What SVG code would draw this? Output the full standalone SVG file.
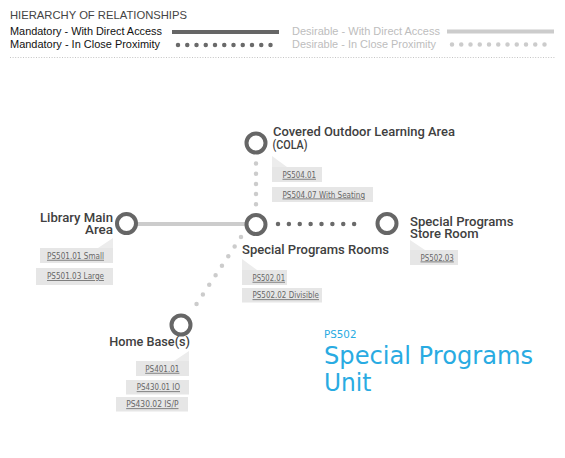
<svg xmlns="http://www.w3.org/2000/svg" width="565" height="458" viewBox="0 0 565 458">
<style>
.leg{font-family:"Liberation Sans",Arial,sans-serif;}
.lbl{font-family:Roboto,Inter,"DejaVu Sans",sans-serif;font-weight:500;font-size:12px;fill:#404040;}
.tag{font-family:"DejaVu Sans",sans-serif;font-size:8px;fill:#666;text-decoration:underline;}
.box{fill:#e6e6e6;}
.tab{fill:#ececec;}
.node{fill:#fff;stroke:#666;stroke-width:4;}
.solidL{stroke:#cccccc;stroke-width:4;fill:none;}
.solidD{stroke:#666;stroke-width:4;fill:none;}
.dotL{stroke:#cccccc;stroke-width:4.5;stroke-linecap:round;fill:none;}
.dotD{stroke:#6a6a6a;stroke-width:4.5;stroke-linecap:round;fill:none;}
.blue{font-family:"DejaVu Sans",sans-serif;fill:#29abe2;}
</style>
<rect width="565" height="458" fill="#ffffff"/>
<g id="legend">
<text class="leg" x="10" y="19" font-size="11.4" fill="#444" textLength="177" lengthAdjust="spacingAndGlyphs">HIERARCHY OF RELATIONSHIPS</text>
<text class="leg" x="10" y="35" font-size="11" fill="#111" textLength="152" lengthAdjust="spacingAndGlyphs">Mandatory - With Direct Access</text>
<text class="leg" x="10" y="48" font-size="11" fill="#111" textLength="150" lengthAdjust="spacingAndGlyphs">Mandatory - In Close Proximity</text>
<text class="leg" x="292" y="35" font-size="11" fill="#bdbdbd" textLength="148" lengthAdjust="spacingAndGlyphs">Desirable - With Direct Access</text>
<text class="leg" x="292" y="48" font-size="11" fill="#bdbdbd" textLength="144" lengthAdjust="spacingAndGlyphs">Desirable - In Close Proximity</text>
<line class="solidD" x1="172" y1="32" x2="279" y2="32"/>
<line class="dotD" x1="178" y1="45" x2="279.75" y2="45" stroke-width="3.8" stroke-dasharray="0 9.25"/>
<line class="solidL" x1="447" y1="31.5" x2="554" y2="31.5"/>
<line class="dotL" x1="452" y1="44.5" x2="553.75" y2="44.5" stroke-width="3.8" stroke-dasharray="0 9.25"/>
<line x1="10" y1="57.5" x2="556" y2="57.5" stroke="#b5b5b5" stroke-width="0.8" stroke-dasharray="1 1.6"/>
</g>
<g id="connectors">
<line class="solidL" x1="136" y1="224" x2="247" y2="224"/>
<line class="dotL" x1="256" y1="163.5" x2="256" y2="204.3" stroke-dasharray="0 10.2"/>
<line class="dotD" x1="278" y1="224" x2="365" y2="224" stroke-dasharray="0 10.875"/>
<line class="dotL" x1="241" y1="237" x2="196.5" y2="304" stroke-dasharray="0 11.48"/>
</g>
<g id="node-cola">
<circle class="node" cx="256" cy="143" r="9.5"/>
<text class="lbl" x="273" y="136" textLength="182" lengthAdjust="spacingAndGlyphs">Covered Outdoor Learning Area</text>
<text class="lbl" x="272.5" y="148.5" textLength="35" lengthAdjust="spacingAndGlyphs">(COLA)</text>
<polygon class="tab" points="272,156 272,167 287,167"/>
<rect class="box" x="272" y="167" width="50" height="15"/>
<text class="tag" x="282.5" y="177.8" textLength="33.5" lengthAdjust="spacingAndGlyphs">PS504.01</text>
<rect class="box" x="272" y="187" width="101" height="15"/>
<text class="tag" x="282.5" y="197.5" textLength="82.5" lengthAdjust="spacingAndGlyphs">PS504.07 With Seating</text>
</g>
<g id="node-library">
<circle class="node" cx="126.5" cy="223.5" r="9.5"/>
<text class="lbl" x="113" y="221.5" text-anchor="end" textLength="73" lengthAdjust="spacingAndGlyphs">Library Main</text>
<text class="lbl" x="113" y="234" text-anchor="end" textLength="28" lengthAdjust="spacingAndGlyphs">Area</text>
<polygon class="tab" points="113,238 113,248 98,248"/>
<rect class="box" x="40" y="248" width="73" height="15"/>
<text class="tag" x="104" y="258.8" text-anchor="end" textLength="57" lengthAdjust="spacingAndGlyphs">PS501.01 Small</text>
<rect class="box" x="36" y="268" width="77" height="17"/>
<text class="tag" x="104" y="279" text-anchor="end" textLength="57" lengthAdjust="spacingAndGlyphs">PS501.03 Large</text>
</g>
<g id="node-spr">
<circle class="node" cx="256" cy="224.5" r="9.5"/>
<text class="lbl" x="242" y="254" textLength="147" lengthAdjust="spacingAndGlyphs">Special Programs Rooms</text>
<polygon class="tab" points="242,259 242,270 257,270"/>
<rect class="box" x="242" y="270" width="45" height="15"/>
<text class="tag" x="252.5" y="280.8" textLength="32.5" lengthAdjust="spacingAndGlyphs">PS502.01</text>
<rect class="box" x="242" y="288" width="80" height="14.5"/>
<text class="tag" x="252.5" y="298.3" textLength="66.5" lengthAdjust="spacingAndGlyphs">PS502.02 Divisible</text>
</g>
<g id="node-store">
<circle class="node" cx="387" cy="223.5" r="9.5"/>
<text class="lbl" x="410" y="225.5" textLength="103.5" lengthAdjust="spacingAndGlyphs">Special Programs</text>
<text class="lbl" x="410" y="238" textLength="68.5" lengthAdjust="spacingAndGlyphs">Store Room</text>
<polygon class="tab" points="410,240 410,250 425,250"/>
<rect class="box" x="410" y="250" width="48" height="15"/>
<text class="tag" x="420.5" y="260.5" textLength="33.3" lengthAdjust="spacingAndGlyphs">PS502.03</text>
</g>
<g id="node-home">
<circle class="node" cx="181" cy="325" r="9.5"/>
<text class="lbl" x="190" y="346" text-anchor="end" textLength="80.7" lengthAdjust="spacingAndGlyphs">Home Base(s)</text>
<polygon class="tab" points="189,351 189,361 174,361"/>
<rect class="box" x="136" y="361" width="53" height="15"/>
<text class="tag" x="179.5" y="371.8" text-anchor="end" textLength="34.3" lengthAdjust="spacingAndGlyphs">PS401.01</text>
<rect class="box" x="126" y="380" width="63" height="14.5"/>
<text class="tag" x="180" y="390.3" text-anchor="end" textLength="43.3" lengthAdjust="spacingAndGlyphs">PS430.01 IO</text>
<rect class="box" x="116" y="397" width="72" height="14.5"/>
<text class="tag" x="178.5" y="407.3" text-anchor="end" textLength="52.3" lengthAdjust="spacingAndGlyphs">PS430.02 IS/P</text>
</g>
<g id="title">
<text class="blue" x="324" y="337.5" font-size="11" textLength="32.5" lengthAdjust="spacingAndGlyphs">PS502</text>
<text class="blue" x="324" y="364" font-size="24.5" textLength="209" lengthAdjust="spacingAndGlyphs">Special Programs</text>
<text class="blue" x="324" y="390.5" font-size="24.5" textLength="47.5" lengthAdjust="spacingAndGlyphs">Unit</text>
</g>
</svg>
